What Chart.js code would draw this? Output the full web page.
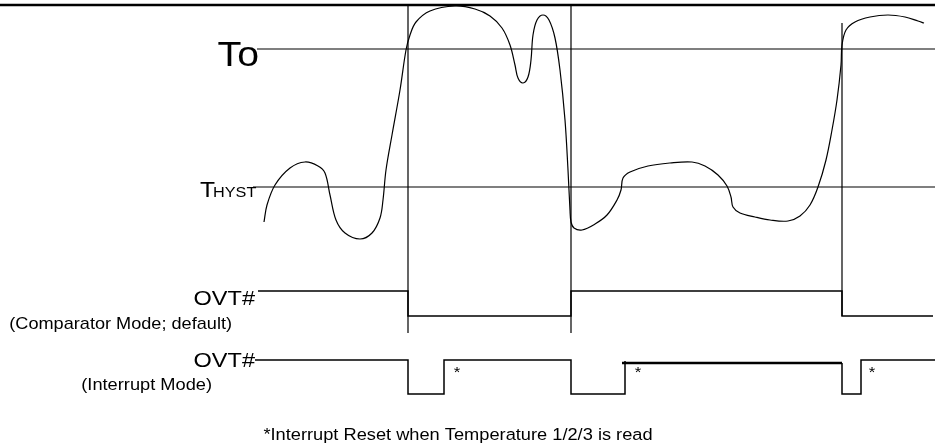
<!DOCTYPE html>
<html>
<head>
<meta charset="utf-8">
<script src="https://cdn.jsdelivr.net/npm/chart.js@4.4.1/dist/chart.umd.min.js"></script>
<style>
  html, body { margin: 0; padding: 0; background: #fff; }
  #wrap { width: 935px; height: 447px; }
</style>
</head>
<body>
<div id="wrap"><canvas id="timing" width="935" height="447"></canvas></div>
<script>
// Temperature vs OVT# timing diagram
// x = time, y = level (chart units laid out like the original drawing, top = 0)

const tempTime = [264, 267, 275, 290, 305, 318, 325, 330, 336, 345, 360, 372, 380, 383, 386, 392, 400, 406, 410, 416, 430, 455, 475, 490, 502, 510, 515, 518, 523, 528, 531, 533, 537, 543, 549, 555, 560, 565, 568, 570, 571, 574, 582, 595, 607, 617, 621, 623, 630, 648, 670, 692, 705, 718, 727, 731, 733, 740, 755, 770, 788, 800, 810, 818, 826, 832, 837, 841, 842, 846, 855, 870, 888, 905, 918, 924];
const tempLevel = [222, 205, 185, 168, 162, 166, 173, 195, 220, 233, 239, 233, 218, 200, 170, 135, 90, 50, 35, 22, 11, 6, 9, 16, 28, 45, 65, 78, 83, 77, 60, 35, 20, 15, 20, 38, 70, 120, 170, 210, 222, 228, 230, 224, 215, 200, 190, 178, 172, 166, 163, 162, 166, 175, 186, 197, 207, 213, 217, 220, 221, 216, 205, 187, 160, 130, 100, 65, 45, 30, 22, 17, 15, 17, 21, 23];

// thresholds
const toLevel = 49;
const thystLevel = 187;
const thresholdStart = 257;

// trip instants (where temperature crosses To / THYST)
const tripTimes = [408, 571, 842];
const tripTop = [5, 5, 23];
const tripBottom = [333, 333, 316];

// OVT# comparator mode
const compTime = [258, 408, 408, 571, 571, 842, 842, 933];
const compLevel = [291, 291, 316, 316, 291, 291, 316, 316];

// OVT# interrupt mode
const intTime = [255, 408, 408, 444, 444, 571, 571, 625, 625];
const intLevel = [360, 360, 394, 394, 360, 360, 394, 394, 361];
const intHeldTime = [622, 842, 842, 861, 861, 935];
const intHeldLevel = [363, 363, 394, 394, 360, 360];

// reset marks
const resetTimes = [457, 638, 872];
const resetLevel = 370;

const frameLevel = 5;

const pts = (xs, ys) => xs.map((x, i) => ({ x: x, y: Array.isArray(ys) ? ys[i] : ys }));

const datasets = [
  { data: pts([0, 935], frameLevel), borderWidth: 2.5 },
  { data: pts([thresholdStart, 935], toLevel), borderWidth: 1.2 },
  { data: pts([253, 935], thystLevel), borderWidth: 1.2 },
  { data: pts(tempTime, tempLevel), borderWidth: 1.2, tension: 0.35 },
  { data: pts(compTime, compLevel), borderWidth: 1.5 },
  { data: pts(intTime, intLevel), borderWidth: 1.5 },
  { data: pts(intHeldTime.slice(0, 2), intHeldLevel.slice(0, 2)), borderWidth: 2.5 },
  { data: pts(intHeldTime.slice(1), intHeldLevel.slice(1)), borderWidth: 1.5 }
];
tripTimes.forEach((t, i) => {
  datasets.push({ data: pts([t, t], [tripTop[i], tripBottom[i]]), borderWidth: 1.2 });
});
datasets.forEach(d => {
  d.borderColor = '#000';
  d.pointRadius = 0;
  d.fill = false;
  d.clip = false;
  if (d.tension === undefined) d.tension = 0;
});

// the original lettering is a bit wider than Arial, so stretch it sideways
const STRETCH = 1.12;

const labelsPlugin = {
  id: 'labels',
  afterDraw(chart) {
    const ctx = chart.ctx;
    const xs = chart.scales.x, ys = chart.scales.y;
    const put = (text, x, y, size, align) => {
      ctx.save();
      ctx.font = size + 'px "Liberation Sans", Arial, sans-serif';
      ctx.textAlign = align;
      ctx.textBaseline = 'alphabetic';
      ctx.fillStyle = '#000';
      ctx.translate(xs.getPixelForValue(x), ys.getPixelForValue(y));
      ctx.scale(STRETCH, 1);
      ctx.fillText(text, 0, 0);
      ctx.restore();
    };

    put('To', 259, toLevel + 17, 35, 'right');

    put('T', 200, thystLevel + 10, 22, 'left');
    put('HYST', 213, thystLevel + 10, 14.5, 'left');

    put('OVT#', 255, 305, 21, 'right');
    put('(Comparator Mode; default)', 232, 329, 16.2, 'right');
    put('OVT#', 255, 367, 21, 'right');
    put('(Interrupt Mode)', 212, 390, 16.3, 'right');

    resetTimes.forEach(t => put('*', t, resetLevel + 7, 15, 'center'));

    put('*Interrupt Reset when Temperature 1/2/3 is read', 458, 440, 16.3, 'center');
  }
};

new Chart(document.getElementById('timing').getContext('2d'), {
  type: 'line',
  data: { datasets: datasets },
  options: {
    responsive: false,
    animation: false,
    layout: { padding: 0 },
    plugins: { legend: { display: false }, tooltip: { enabled: false } },
    scales: {
      x: { type: 'linear', min: 0, max: 935, display: false },
      y: { type: 'linear', min: 0, max: 447, reverse: true, display: false }
    }
  },
  plugins: [labelsPlugin]
});
</script>
</body>
</html>
